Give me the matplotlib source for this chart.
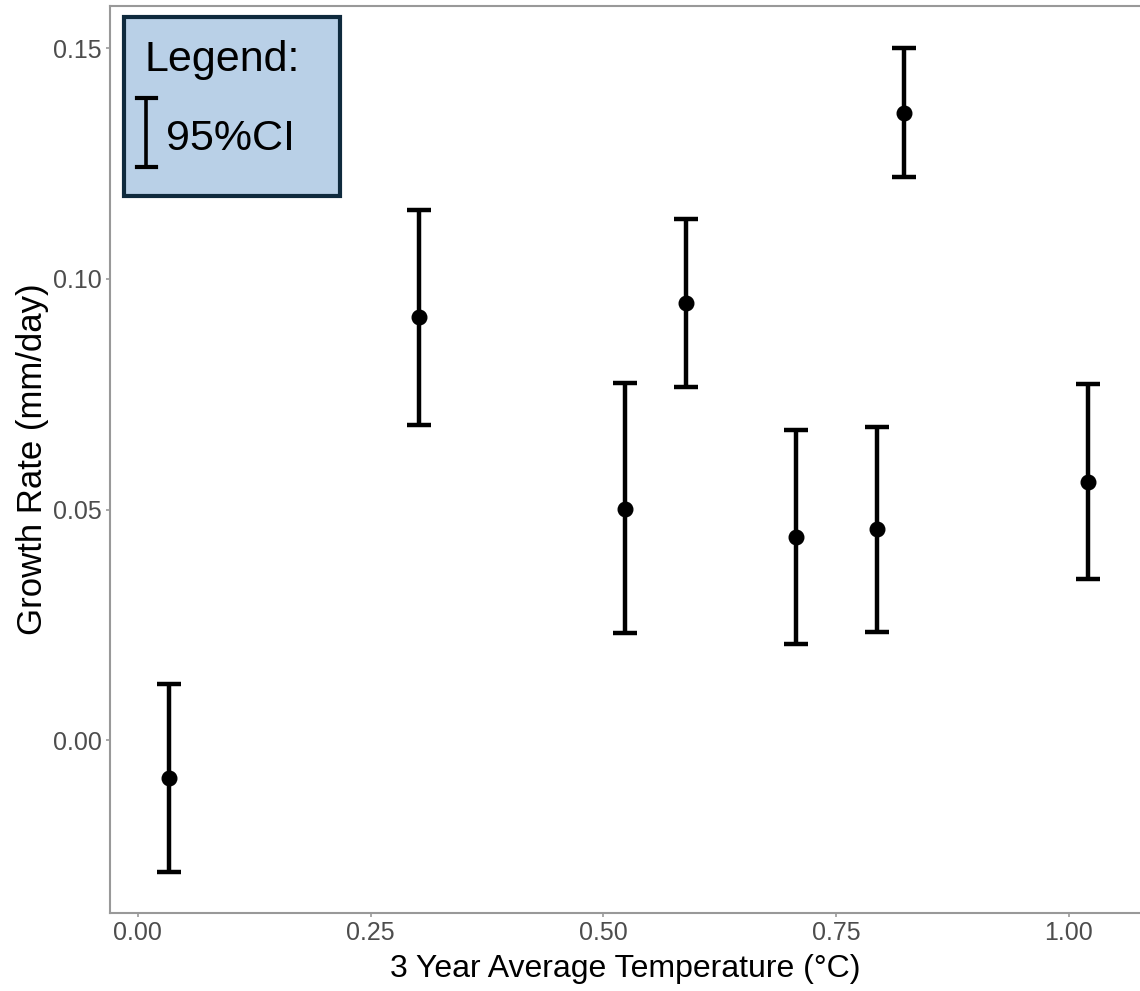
import matplotlib.pyplot as plt
from matplotlib.patches import Rectangle
from matplotlib.lines import Line2D

# growth rate per site with 95% confidence interval
temp = [0.034, 0.302, 0.523, 0.589, 0.707, 0.794, 0.823, 1.021]
rate = [-0.0082, 0.0918, 0.0501, 0.0947, 0.0440, 0.0458, 0.1360, 0.0560]
ci_low = [-0.0286, 0.0683, 0.0232, 0.0766, 0.0208, 0.0234, 0.1221, 0.0349]
ci_high = [0.0122, 0.1150, 0.0774, 0.1130, 0.0672, 0.0679, 0.1501, 0.0772]

xticks = [0.00, 0.25, 0.50, 0.75, 1.00]
yticks = [0.00, 0.05, 0.10, 0.15]

plt.rcParams['font.family'] = ['Liberation Sans', 'DejaVu Sans']

W, H = 1140, 991
fig = plt.figure(figsize=(W / 100, H / 100), dpi=100)
ax = fig.add_axes([110 / W, 78 / H, 1030 / W, 907 / H])

yerr = [[r - lo for r, lo in zip(rate, ci_low)],
        [hi - r for r, hi in zip(rate, ci_high)]]
ax.errorbar(temp, rate, yerr=yerr, fmt='o', color='black', ms=10.5,
            elinewidth=3.2, capsize=8.5, capthick=3.2, zorder=3)

ax.set_xlim(-0.0299, 1.0767)
ax.set_ylim(-0.0375, 0.1592)
ax.set_xticks(xticks)
ax.set_xticklabels(['%.2f' % t for t in xticks])
ax.set_yticks(yticks)
ax.set_yticklabels(['%.2f' % t for t in yticks])

for side in ['left', 'bottom', 'top']:
    ax.spines[side].set_color('#999999')
    ax.spines[side].set_linewidth(1.5)
ax.spines['right'].set_visible(False)
ax.tick_params(axis='both', colors='#999999', length=3, width=1.2, pad=3,
               labelsize=18, labelcolor='#4d4d4d')

ax.set_xlabel('3 Year Average Temperature (°C)', fontsize=23, labelpad=6)
ax.set_ylabel('Growth Rate (mm/day)', fontsize=25, labelpad=3)

# legend box with the error bar glyph
fig.patches.append(Rectangle((124 / W, 1 - 196 / H), 216 / W, 179 / H,
                             transform=fig.transFigure, facecolor='#b9d0e7',
                             edgecolor='#0f2a3d', linewidth=3, zorder=5))
fig.text(145 / W, 1 - 71 / H, 'Legend:', fontsize=31, color='black',
         ha='left', va='baseline', zorder=6)
fig.text(166 / W, 1 - 150 / H, '95%CI', fontsize=31, color='black',
         ha='left', va='baseline', zorder=6)
gx = 146 / W
fig.lines.append(Line2D([gx, gx], [1 - 98 / H, 1 - 167 / H],
                        transform=fig.transFigure, color='black', lw=2.6, zorder=6))
for gy in [98, 167]:
    fig.lines.append(Line2D([137 / W, 156 / W], [1 - gy / H, 1 - gy / H],
                            transform=fig.transFigure, color='black', lw=3, zorder=6))

fig.savefig('out.png', dpi=100)
